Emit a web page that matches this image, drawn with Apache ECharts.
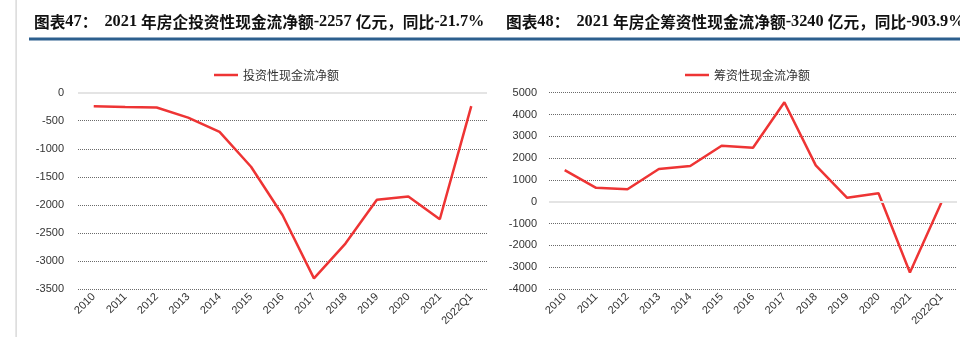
<!DOCTYPE html>
<html><head><meta charset="utf-8">
<script src="https://cdn.jsdelivr.net/npm/echarts@6/dist/echarts.min.js"></script>
<style>html,body{margin:0;padding:0;background:#fff;}#c{width:960px;height:337px;}</style>
</head><body><div id="c"></div>
<script>
const categories = ['2010','2011','2012','2013','2014','2015','2016','2017','2018','2019','2020','2021','2022Q1'];
const investName = '投资性现金流净额';
const investValues = [-240, -255, -265, -445, -700, -1320, -2180, -3310, -2690, -1910, -1850, -2257, -240];
const financeName = '筹资性现金流净额';
const financeValues = [1450, 640, 570, 1500, 1640, 2570, 2480, 4560, 1670, 180, 390, -3240, -50];
const leftTicks = {min: -3500, max: 0, interval: 500};
const rightTicks = {min: -4000, max: 5000, interval: 1000};

const chart = echarts.init(document.getElementById('c'), null, {renderer: 'canvas'});
const cn = {fontFamily: 'Noto Sans CJK SC', fontWeight: 'bold', fontSize: 15.7, color: '#111'};
const nm = {fontFamily: 'Liberation Serif', fontWeight: 'bold', fontSize: 16.3, color: '#111'};
const rich = {c: cn, n: nm};
const axisLbl = {color: '#333', fontSize: 11, fontFamily: 'Liberation Sans'};
const split = {show: true, lineStyle: {color: '#6a6a6a', type: [1, 1], width: 1}};
const red = '#ee3434';
const zeroLine = {silent: true, symbol: 'none', label: {show: false}, lineStyle: {color: '#e4e4e4', type: 'solid', width: 2}, data: [{yAxis: 0}]};
const plain = v => String(v);

chart.setOption({
  animation: false,
  graphic: [
    {type: 'rect', shape: {x: 15.5, y: 0, width: 1.2, height: 337}, style: {fill: '#d0d0d0'}},
    {type: 'rect', shape: {x: 29, y: 37.5, width: 931, height: 3}, style: {fill: '#2d5f8e'}}
  ],
  title: [
    {left: 29, top: 9, text: '{c|图表}{n|47}{c|：  }{n|2021 }{c|年房企投资性现金流净额}{n|-2257 }{c|亿元，同比}{n|-21.7%}', textStyle: {rich}},
    {left: 501, top: 9, text: '{c|图表}{n|48}{c|：  }{n|2021 }{c|年房企筹资性现金流净额}{n|-3240 }{c|亿元，同比}{n|-903.9%}', textStyle: {rich}}
  ],
  legend: [
    {data: [investName], left: 209, top: 64, itemWidth: 24, itemHeight: 12, itemGap: 4,
     textStyle: {fontSize: 12, color: '#333', fontFamily: 'Noto Sans CJK SC'}, icon: 'path://M0,5 L24,5 L24,7.5 L0,7.5 Z'},
    {data: [financeName], left: 680, top: 64, itemWidth: 24, itemHeight: 12, itemGap: 4,
     textStyle: {fontSize: 12, color: '#333', fontFamily: 'Noto Sans CJK SC'}, icon: 'path://M0,5 L24,5 L24,7.5 L0,7.5 Z'}
  ],
  grid: [
    {left: 78, top: 92.7, width: 409, height: 196.3},
    {left: 549, top: 92.7, width: 408, height: 196.3}
  ],
  xAxis: [
    {type: 'category', gridIndex: 0, data: categories, boundaryGap: true,
     axisLine: {show: false, onZero: false}, axisTick: {show: false}, position: 'bottom',
     axisLabel: Object.assign({rotate: 45, margin: 6, interval: 0}, axisLbl)},
    {type: 'category', gridIndex: 1, data: categories, boundaryGap: true,
     axisLine: {show: false, onZero: false}, axisTick: {show: false}, position: 'bottom',
     axisLabel: Object.assign({rotate: 45, margin: 6, interval: 0}, axisLbl)}
  ],
  yAxis: [
    Object.assign({type: 'value', gridIndex: 0, axisLine: {show: false}, axisTick: {show: false},
     axisLabel: Object.assign({margin: 14, formatter: plain}, axisLbl), splitLine: split}, leftTicks),
    Object.assign({type: 'value', gridIndex: 1, axisLine: {show: false}, axisTick: {show: false},
     axisLabel: Object.assign({margin: 12, formatter: plain}, axisLbl), splitLine: split}, rightTicks)
  ],
  series: [
    {name: investName, type: 'line', xAxisIndex: 0, yAxisIndex: 0, data: investValues, symbol: 'none',
     lineStyle: {color: red, width: 2.5}, itemStyle: {color: red}, markLine: zeroLine, z: 3},
    {name: financeName, type: 'line', xAxisIndex: 1, yAxisIndex: 1, data: financeValues, symbol: 'none',
     lineStyle: {color: red, width: 2.5}, itemStyle: {color: red}, markLine: zeroLine, z: 3}
  ]
});
</script></body></html>
